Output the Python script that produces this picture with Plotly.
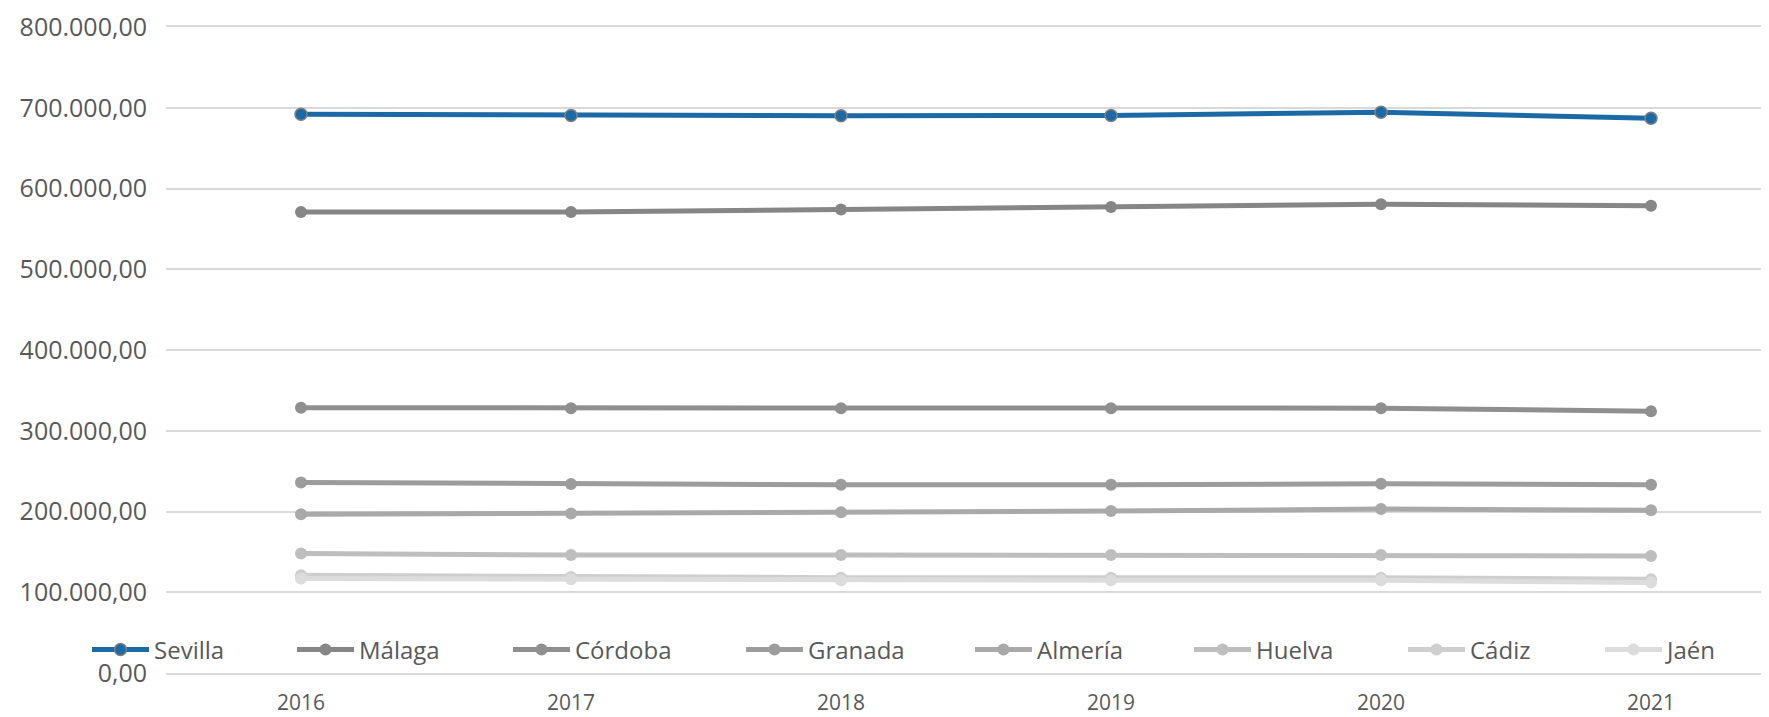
import plotly.graph_objects as go

years = ['2016', '2017', '2018', '2019', '2020', '2021']
names = ['Sevilla', 'Málaga', 'Córdoba', 'Granada', 'Almería', 'Huelva', 'Cádiz', 'Jaén']
sevilla = [692000, 690500, 690000, 690500, 694500, 687000]
malaga = [571000, 571000, 574000, 577000, 580500, 578500]
cordoba = [328500, 328000, 328000, 328000, 328000, 324000]
granada = [236000, 234000, 233000, 233000, 234500, 233000]
almeria = [196500, 197500, 199000, 200500, 203000, 201500]
huelva = [148000, 146000, 146000, 146000, 146000, 145000]
cadiz = [121000, 119000, 118000, 118000, 118000, 116000]
jaen = [117000, 116000, 115000, 115000, 115000, 112000]
series = [sevilla, malaga, cordoba, granada, almeria, huelva, cadiz, jaen]

colors = ['#1b6aa5', '#868686', '#8f8f8f', '#9c9c9c', '#a9a9a9', '#bebebe', '#cecece', '#dcdcdc']

# page offset caused by the default body margin of the html page
OFF = 8
W, H = 1769 - OFF, 717 - OFF
PLOT_L, PLOT_T, PLOT_B = 166 - OFF, 27 - OFF, 673 - OFF
legend_px = [p - OFF for p in [92, 297, 513, 746, 975, 1194, 1408, 1605]]
LEG_Y = 650 - OFF

FONT = 'Open Sans'
TXT = '#595959'
GRID = '#d9d9d9'

fig = go.Figure()
for i, (nm, vals) in enumerate(zip(names, series)):
    mk = dict(size=12, color=colors[i])
    if i == 0:
        mk['line'] = dict(color='#7f7f7f', width=1.5)
    fig.add_trace(go.Scatter(
        x=years, y=vals, name=nm, mode='lines+markers',
        line=dict(color=colors[i], width=5),
        marker=mk,
        legend='legend' if i == 0 else f'legend{i+1}',
    ))

plot_h = PLOT_B - PLOT_T
layout_legends = {}
for i, px in enumerate(legend_px):
    key = 'legend' if i == 0 else f'legend{i+1}'
    layout_legends[key] = dict(
        x=(px - 5) / W, xanchor='left', xref='paper',
        y=(PLOT_B - LEG_Y) / plot_h, yanchor='middle',
        orientation='h', bgcolor='rgba(0,0,0,0)',
        font=dict(family=FONT, size=24, color=TXT),
        itemwidth=57, borderwidth=0,
    )

fig.update_layout(
    width=W, height=H,
    margin=dict(l=0, r=0, t=PLOT_T, b=H - PLOT_B, pad=0, autoexpand=False),
    paper_bgcolor='white', plot_bgcolor='white',
    separators=',.',
    showlegend=True,
    **layout_legends,
)
fig.update_xaxes(
    type='category', domain=[PLOT_L / W, 1], range=[-0.5, 5.437],
    showgrid=False, zeroline=False, automargin=False,
    showline=True, mirror=True, linecolor=GRID, linewidth=1.5,
    ticks='',
    tickfont=dict(family=FONT, size=21, color=TXT),
    ticklabelstandoff=10,
)
fig.update_yaxes(
    range=[0, 800000], dtick=100000, tickformat=',.2f',
    showgrid=True, gridcolor=GRID, gridwidth=1.5, automargin=False,
    zeroline=False, showline=False, ticks='',
    tickfont=dict(family=FONT, size=25, color=TXT),
    ticklabelstandoff=18,
)

fig.write_html('out.html')
